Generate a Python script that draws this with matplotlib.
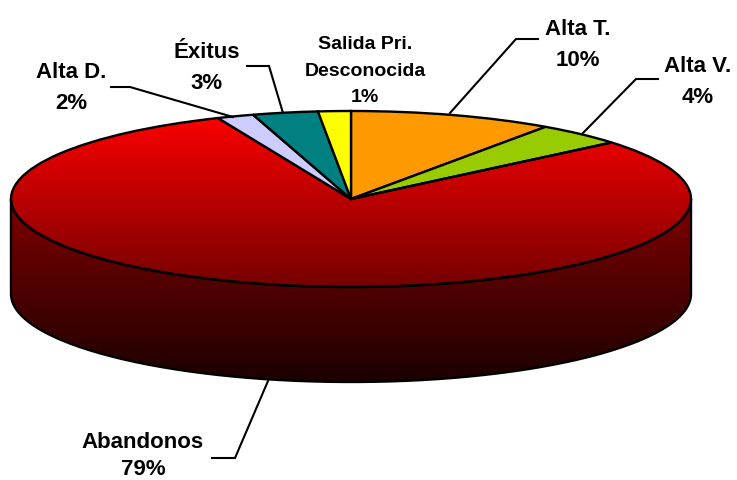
import numpy as np
import matplotlib
matplotlib.use("Agg")
import matplotlib.pyplot as plt
from matplotlib.colors import LinearSegmentedColormap
from matplotlib.patches import PathPatch
from matplotlib.path import Path
from matplotlib.transforms import Affine2D

plt.rcParams["font.family"] = ["Liberation Sans", "DejaVu Sans"]

# clockwise from 12 o'clock
categories = ["Alta T.", "Alta V.", "Abandonos", "Alta D.", "Éxitus", "Salida Pri.\nDesconocida"]
shares = [9.7, 4.2, 79.7, 1.75, 3.1, 1.55]
share_labels = ["10%", "4%", "79%", "2%", "3%", "1%"]
colours = ["#ff9900", "#99cc00", "none", "#ccccff", "#008080", "#ffff00"]

CX, CY, RX, RY = 351, 200, 340, 88
DEPTH = 95
EDGE = 1.7


def red_fill(ax, colours_, y0, y1, clip):
    cmap = LinearSegmentedColormap.from_list("fade", colours_)
    grad = np.linspace(0, 1, 256).reshape(-1, 1)
    im = ax.imshow(grad, cmap=cmap, extent=(0, 737, y1, y0), aspect="auto", zorder=1)
    im.set_clip_path(clip)


def draw_side(ax):
    t = np.linspace(0, np.pi, 200)
    x = CX + RX * np.cos(t)
    lower = CY + DEPTH + RY * np.sin(t)
    upper = CY + RY * np.sin(t[::-1])
    verts = np.column_stack([np.r_[x, x[::-1], x[0]], np.r_[lower, upper, lower[0]]])
    side = PathPatch(Path(verts), fc="none", ec="black", lw=EDGE, zorder=2)
    ax.add_patch(side)
    red_fill(ax, ["#800000", "#1c0000"], CY, CY + RY + DEPTH, side)


def draw_top(ax):
    wedges, _ = ax.pie(shares, colors=colours, startangle=90, counterclock=False)
    squash = Affine2D().scale(RX, -RY).translate(CX, CY) + ax.transData
    for wedge in wedges:
        wedge.set_transform(squash)
        wedge.set_edgecolor("black")
        wedge.set_linewidth(EDGE)
        wedge.set_zorder(3)
    red_fill(ax, ["#ff0000", "#760000"], CY - RY, CY + RY, wedges[2])
    wedges[2].set_facecolor("none")


def add_callouts(ax):
    leaders = {
        "Alta T.": [(450, 114), (516, 40), (538, 40)],
        "Alta V.": [(583, 134), (636, 80), (658, 80)],
        "Abandonos": [(268, 382), (235, 459), (212, 459)],
        "Alta D.": [(233, 118), (130, 88), (111, 88)],
        "Éxitus": [(283, 114), (269, 67), (247, 67)],
    }
    for pts in leaders.values():
        xs, ys = zip(*pts)
        ax.plot(xs, ys, color="black", lw=1.5, zorder=4, solid_joinstyle="miter")
    # x, y, font size, line spacing
    spots = {
        "Alta T.": (578, 45, 16, 1.58),
        "Alta V.": (698, 82, 16, 1.58),
        "Abandonos": (143, 456, 16, 1.4),
        "Alta D.": (71, 88, 16, 1.58),
        "Éxitus": (207, 68, 16, 1.58),
        "Salida Pri.\nDesconocida": (365, 71, 14, 1.7),
    }
    for name, pct in zip(categories, share_labels):
        x, y, size, spacing = spots[name]
        ax.text(x, y, name + "\n" + pct, ha="center", va="center", fontsize=size,
                fontweight="bold", linespacing=spacing, zorder=5, clip_on=False)


def main():
    fig = plt.figure(figsize=(7.37, 4.81), dpi=100)
    ax = fig.add_axes([0, 0, 1, 1])
    draw_side(ax)
    draw_top(ax)
    add_callouts(ax)
    ax.set_aspect("auto")
    ax.set_xlim(0, 737)
    ax.set_ylim(481, 0)
    ax.axis("off")
    fig.savefig("out.png", dpi=100)


if __name__ == "__main__":
    main()
